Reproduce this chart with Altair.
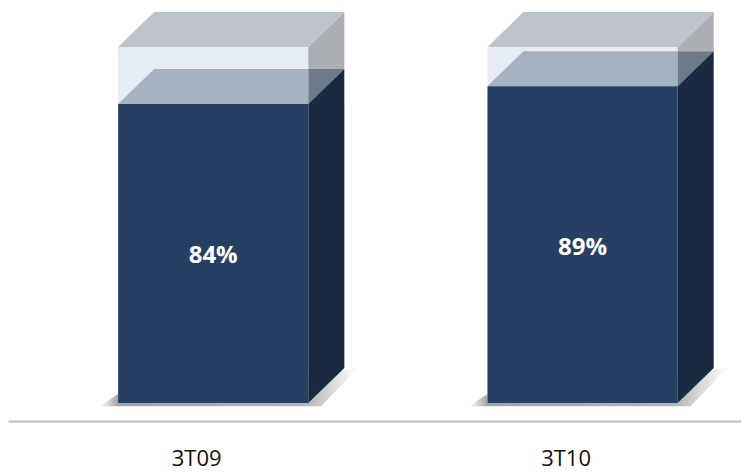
import json
import altair as alt
import pandas as pd

categories = ["3T09", "3T10"]
share = [84, 89]
total = [100, 100]

LEFT, WIDTH, DEPTH_X, DEPTH_Y = -0.2114, 0.5149, 0.0976, 9.83

def face(i, pts):
    return [{"bar": categories[i], "x": p[0], "y": p[1], "y2": p[2]} for p in pts]

def build(fn):
    rows = []
    for i in range(len(categories)):
        rows += face(i, fn(i, i + LEFT, i + LEFT + WIDTH, share[i], total[i]))
    return pd.DataFrame(rows)

D, H = DEPTH_X, DEPTH_Y
faces = [
    ("shadow", lambda i, l, r, v, t: [(l - 0.05, -0.9, -0.9), (l, -0.9, 2.5), (r + 0.035, -0.9, 8), (r + 0.135, 10, 10)]),
    ("#E6ECF6", lambda i, l, r, v, t: [(l, 0, t), (r, 0, t)]),
    ("#A9AFB3", lambda i, l, r, v, t: [(r, v + H, t), (r + D, v + H, t + H)]),
    ("#BEC3CB", lambda i, l, r, v, t: [(l, t, t), (l + D, t, t + H), (r, t, t + H), (r + D, t + H, t + H)]),
    ("#A4B1C1", lambda i, l, r, v, t: [(l, v, v), (l + D, v, v + H), (r, v, v + H)]),
    ("#6E7A87", lambda i, l, r, v, t: [(r, v, v + H), (r + D, v + H, v + H)]),
    ("#172A42", lambda i, l, r, v, t: [(r, 0, v), (r + D, H, v + H)]),
    ("#264063", lambda i, l, r, v, t: [(l, 0, v), (r, 0, v)]),
]

x_scale = alt.Scale(domain=[-0.5095, 1.475], nice=False, zero=False)
y_scale = alt.Scale(domain=[-5.06, 110.95], nice=False, zero=False)
label_expr = "[" + ",".join(json.dumps(c).replace('"', "'") for c in categories) + "][datum.value]"

x_axis = alt.Axis(
    values=list(range(len(categories))), labelExpr=label_expr, ticks=False, grid=False,
    domainColor="#BDBDBD", domainWidth=2, labelFont="Open Sans", labelFontSize=22,
    labelColor="#111111", labelPadding=27, labelBaseline="top", labelAngle=0, title=None,
)

shadow_grad = alt.Gradient(
    gradient="linear", x1=0, x2=1, y1=0, y2=0,
    stops=[
        alt.GradientStop(offset=0, color="#FFFFFF"),
        alt.GradientStop(offset=0.07, color="#A5A5A5"),
        alt.GradientStop(offset=0.8, color="#B5B5B5"),
        alt.GradientStop(offset=1, color="#FFFFFF"),
    ],
)

layers = []
for color, fn in faces:
    layers.append(
        alt.Chart(build(fn)).mark_area(color=shadow_grad if color == "shadow" else color)
        .encode(
            x=alt.X("x:Q", scale=x_scale, axis=x_axis),
            y=alt.Y("y:Q", scale=y_scale, axis=None),
            y2="y2:Q",
            detail="bar:N",
        )
    )

labels = pd.DataFrame({
    "x": [i + LEFT + WIDTH / 2 for i in range(len(categories))],
    "y": [v / 2 for v in share],
    "t": [f"{v}%" for v in share],
})
text = alt.Chart(labels).mark_text(
    font="Open Sans", fontWeight="bold", fontSize=24, color="white", dy=3
).encode(
    x=alt.X("x:Q", scale=x_scale, axis=x_axis),
    y=alt.Y("y:Q", scale=y_scale, axis=None),
    text="t:N",
)

chart = alt.layer(*layers, text).properties(
    width=733, height=413, padding={"left": 0, "top": 0, "right": 0, "bottom": 52},
    autosize=alt.AutoSizeParams(type="none"),
    background="white",
).configure_view(stroke=None)

chart.save("out.html", embed_options={"renderer": "svg", "actions": False})
